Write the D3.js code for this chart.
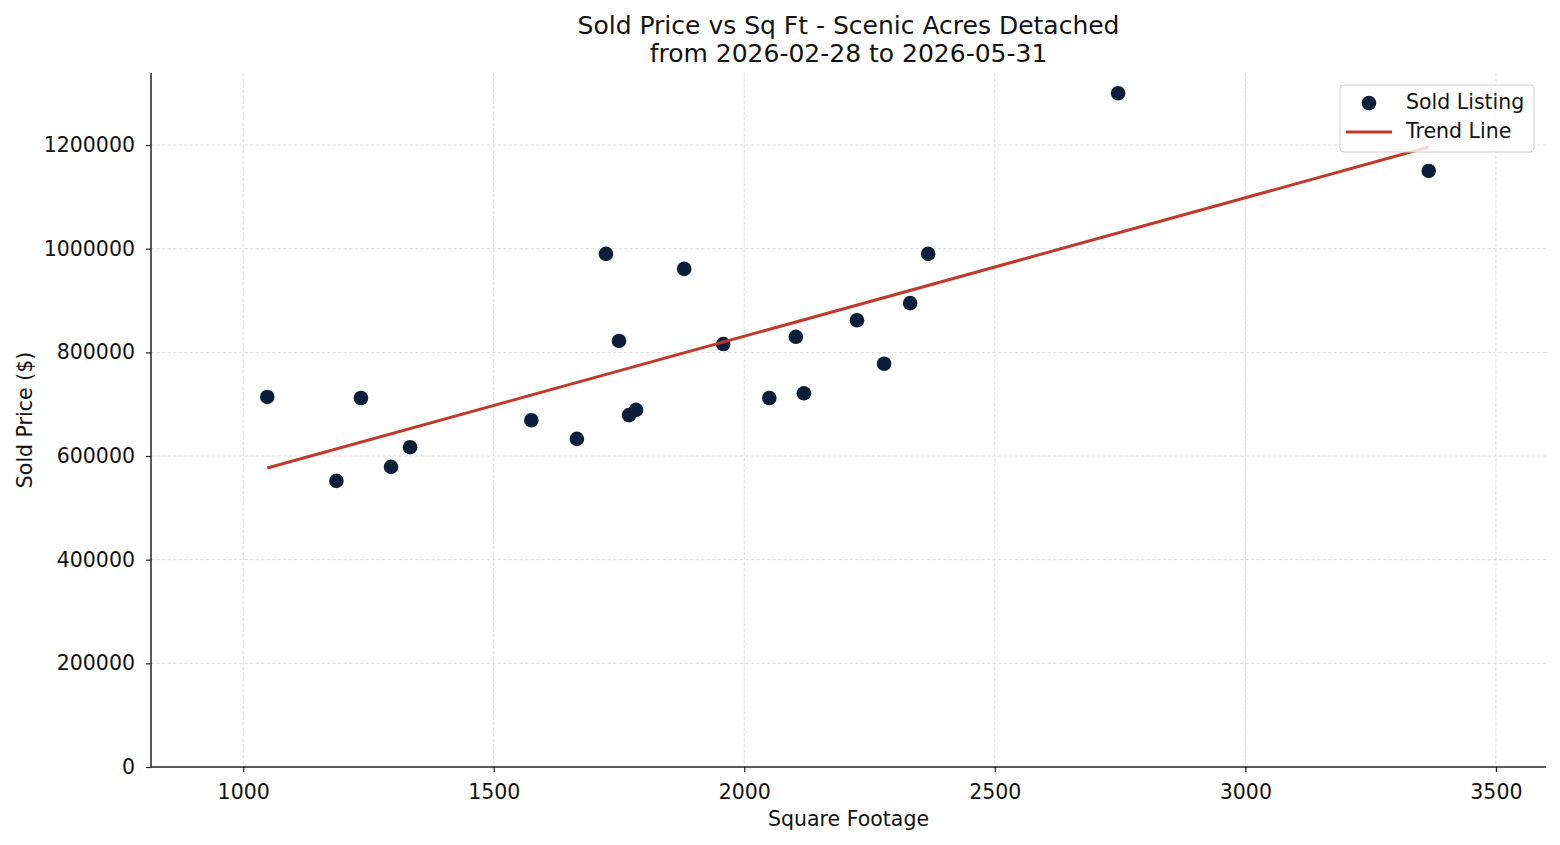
<!DOCTYPE html>
<html lang="en">
<head>
<meta charset="UTF-8">
<title>Sold Price vs Sq Ft</title>
<script src="https://d3js.org/d3.v7.min.js"></script>
<style>
  body { margin: 0; background: #fff; }
  svg { display: block; font-family: "DejaVu Sans", sans-serif; }
  .grid line { stroke: #d4d4d4; stroke-width: 0.8; stroke-dasharray: 3.5,2; }
  .axis path, .axis line { stroke: #222; }
</style>
</head>
<body>
<svg width="1560" height="845"></svg>
<script>
// sold listings
const sqft  = [1048, 1186, 1235, 1295, 1333, 1575, 1666, 1724, 1750, 1770, 1784, 1880,
               1958, 2050, 2103, 2119, 2225, 2279, 2331, 2367, 2746, 3366];
const price = [714000, 552000, 712000, 579000, 617000, 669000, 633000, 990000, 822000, 679000, 689000, 961000,
               816000, 712000, 830000, 721000, 862000, 778000, 895000, 990000, 1300000, 1150000];
// trend line end points
const trendX = [1048, 3366];
const trendY = [576800, 1196100];

const xTicks = [1000, 1500, 2000, 2500, 3000, 3500];
const yTicks = [0, 200000, 400000, 600000, 800000, 1000000, 1200000];

const svg = d3.select("svg");
const margin = {top: 73, right: 14, bottom: 78, left: 151};
const width = 1560 - margin.left - margin.right;
const height = 845 - margin.top - margin.bottom;
const g = svg.append("g").attr("transform", `translate(${margin.left},${margin.top})`);

const x = d3.scaleLinear().domain([816, 3600]).range([0, width]);
const y = d3.scaleLinear().domain([0, 1339000]).range([height, 0]);

// grid
g.append("g").attr("class", "grid")
  .selectAll("line").data(xTicks).enter().append("line")
  .attr("x1", d => x(d)).attr("x2", d => x(d)).attr("y1", 0).attr("y2", height);
g.append("g").attr("class", "grid")
  .selectAll("line").data(yTicks.slice(1)).enter().append("line")
  .attr("x1", 0).attr("x2", width).attr("y1", d => y(d)).attr("y2", d => y(d));

// axes
const xAxis = g.append("g").attr("class", "axis")
  .attr("transform", `translate(0,${height})`)
  .call(d3.axisBottom(x).tickValues(xTicks).tickFormat(d3.format("d")).tickSize(5).tickPadding(12));
xAxis.select(".domain").attr("d", `M0,0H${width}`).attr("stroke-width", 1.5);
xAxis.selectAll(".tick line").attr("stroke-width", 1.2);

const yAxis = g.append("g").attr("class", "axis")
  .call(d3.axisLeft(y).tickValues(yTicks).tickFormat(d3.format("d")).tickSize(5).tickPadding(11));
yAxis.select(".domain").attr("d", `M0,${height}V0`).attr("stroke-width", 1.5);
yAxis.selectAll(".tick line").attr("stroke-width", 1.2);

svg.selectAll(".axis text")
  .attr("font-family", "DejaVu Sans, sans-serif")
  .attr("font-size", 20.5)
  .attr("fill", "#111");

// points
g.append("g").selectAll("circle").data(sqft).enter().append("circle")
  .attr("cx", d => x(d))
  .attr("cy", (d, i) => y(price[i]))
  .attr("r", 7.3)
  .attr("fill", "#0c1e3a");

// trend line
g.append("path")
  .datum(trendX.map((d, i) => [d, trendY[i]]))
  .attr("fill", "none")
  .attr("stroke", "#c0392b")
  .attr("stroke-width", 3)
  .attr("d", d3.line().x(d => x(d[0])).y(d => y(d[1])));

// titles
svg.append("text").attr("x", margin.left + width / 2).attr("y", 34)
  .attr("text-anchor", "middle").attr("font-size", 25).attr("fill", "#111")
  .text("Sold Price vs Sq Ft - Scenic Acres Detached");
svg.append("text").attr("x", margin.left + width / 2).attr("y", 62)
  .attr("text-anchor", "middle").attr("font-size", 25).attr("fill", "#111")
  .text("from 2026-02-28 to 2026-05-31");
svg.append("text").attr("x", margin.left + width / 2).attr("y", 826)
  .attr("text-anchor", "middle").attr("font-size", 20.5).attr("fill", "#111")
  .text("Square Footage");
svg.append("text").attr("transform", `translate(32,${margin.top + height / 2}) rotate(-90)`)
  .attr("text-anchor", "middle").attr("font-size", 20.5).attr("fill", "#111")
  .text("Sold Price ($)");

// legend
const lg = svg.append("g").attr("transform", "translate(1340,85)");
lg.append("rect").attr("width", 194).attr("height", 67).attr("rx", 4)
  .attr("fill", "#fff").attr("fill-opacity", 0.8).attr("stroke", "#cccccc");
lg.append("circle").attr("cx", 29).attr("cy", 18).attr("r", 7.3).attr("fill", "#0c1e3a");
lg.append("line").attr("x1", 6).attr("x2", 52).attr("y1", 47).attr("y2", 47)
  .attr("stroke", "#c0392b").attr("stroke-width", 3);
lg.append("text").attr("x", 66).attr("y", 24).attr("font-size", 20.5).attr("fill", "#111").text("Sold Listing");
lg.append("text").attr("x", 66).attr("y", 53).attr("font-size", 20.5).attr("fill", "#111").text("Trend Line");
</script>
</body>
</html>
